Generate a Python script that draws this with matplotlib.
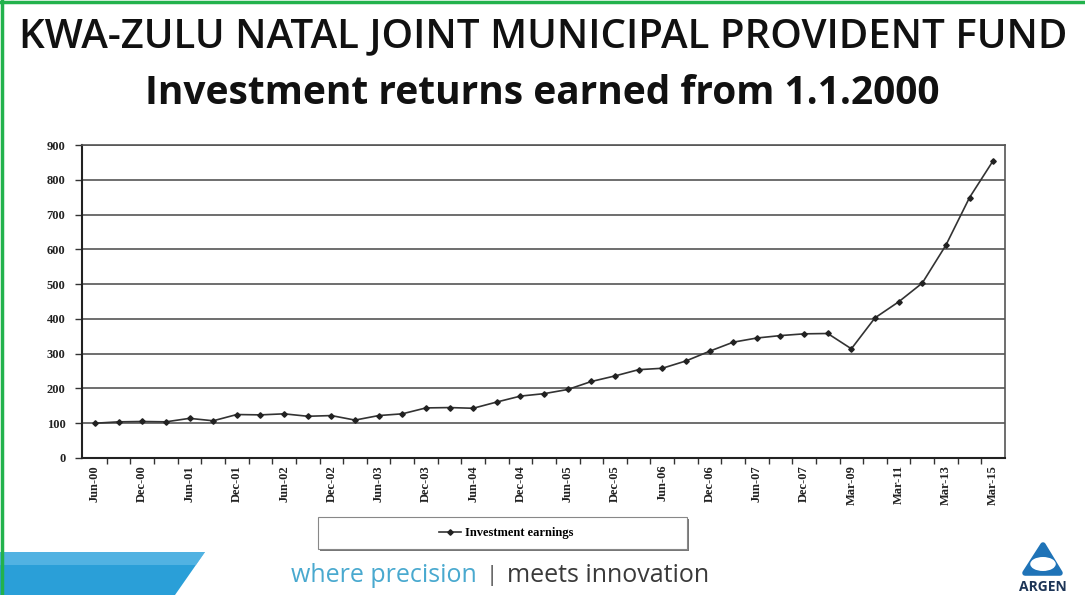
#!/usr/bin/env python3

import numpy as np
import matplotlib
matplotlib.use("Agg")
import matplotlib.pyplot as plt
from matplotlib.patches import Rectangle, Polygon, Circle
from matplotlib.lines import Line2D

# quarterly points up to Dec-07, then roughly annual
periods = ["Jun-00", "Sep-00", "Dec-00", "Mar-01", "Jun-01", "Sep-01", "Dec-01",
           "Mar-02", "Jun-02", "Sep-02", "Dec-02", "Mar-03", "Jun-03", "Sep-03",
           "Dec-03", "Mar-04", "Jun-04", "Sep-04", "Dec-04", "Mar-05", "Jun-05",
           "Sep-05", "Dec-05", "Mar-06", "Jun-06", "Sep-06", "Dec-06", "Mar-07",
           "Jun-07", "Sep-07", "Dec-07", "Jun-08", "Mar-09", "Mar-10", "Mar-11",
           "Mar-12", "Mar-13", "Mar-14", "Mar-15"]
earnings = [100, 104, 105, 104, 114, 107, 125, 124, 127, 120, 122, 109, 122, 127,
            144, 145, 143, 161, 178, 185, 197, 220, 236, 254, 258, 279, 307, 333,
            345, 352, 357, 358, 314, 403, 449, 503, 612, 749, 855]
y_ticks = [0, 100, 200, 300, 400, 500, 600, 700, 800, 900]

W, H = 1085, 595

def main():
    fig = plt.figure(figsize=(W / 100, H / 100), dpi=100)
    fig.patch.set_facecolor("white")

    # titles
    fig.text(543 / W, 1 - 37 / H, "KWA-ZULU NATAL JOINT MUNICIPAL PROVIDENT FUND",
             ha="center", va="center", fontsize=29, family="Open Sans",
             fontweight="semibold", color="#111111")
    fig.text(542 / W, 1 - 94 / H, "Investment returns earned from 1.1.2000",
             ha="center", va="center", fontsize=28, family="Open Sans",
             fontweight="bold", color="#111111")

    ax = fig.add_axes([82 / W, 1 - 458 / H, (1005 - 82) / W, (458 - 145) / H])
    x = np.arange(len(periods))
    ax.plot(x, earnings, color="#333333", lw=1.2, marker="D", ms=2.8,
            mfc="#222222", mec="#222222", label="Investment earnings")

    ax.set_xlim(-0.55, len(periods) - 0.5)
    ax.set_ylim(0, 900)
    ax.set_yticks(y_ticks)
    ax.set_yticklabels([str(v) for v in y_ticks], family="Liberation Serif",
                       fontweight="bold", fontsize=9, color="#222222")
    ax.yaxis.grid(True, color="#555555", lw=1.2)
    ax.set_axisbelow(True)

    ax.set_xticks(x[::2])
    ax.set_xticklabels(periods[::2], rotation=90, family="Liberation Serif",
                       fontweight="bold", fontsize=9, color="#222222")
    ax.set_xticks(x[:-1] + 0.5, minor=True)
    ax.tick_params(axis="x", which="major", length=0, pad=5)
    ax.tick_params(axis="x", which="minor", length=4, width=1, color="#333333")
    ax.tick_params(axis="y", length=5, width=1, color="#333333", pad=7)

    for side in ["left", "bottom"]:
        ax.spines[side].set_color("#222222")
        ax.spines[side].set_linewidth(1.5)
    for side in ["top", "right"]:
        ax.spines[side].set_color("#555555")
        ax.spines[side].set_linewidth(1.2)

    # legend box with a small shadow
    fig.patches.append(Rectangle((320 / W, 1 - 551 / H), 369 / W, 32 / H,
                                 transform=fig.transFigure, fc="#777777",
                                 ec="none", zorder=1))
    fig.patches.append(Rectangle((318 / W, 1 - 549 / H), 369 / W, 32 / H,
                                 transform=fig.transFigure, fc="white",
                                 ec="#888888", lw=0.8, zorder=2))
    leg = fig.legend(loc="center", bbox_to_anchor=(506 / W, 1 - 533 / H),
                     frameon=False, handlelength=1.8, handletextpad=0.3,
                     prop={"family": "Liberation Serif", "weight": "bold",
                           "size": 9})
    leg.set_zorder(3)

    # footer band
    fig.patches.append(Polygon([(0, 0), (175 / W, 0), (205 / W, 43 / H), (0, 43 / H)],
                               closed=True, transform=fig.transFigure,
                               fc="#2a9fd8", ec="none"))
    fig.patches.append(Polygon([(0, 30 / H), (196 / W, 30 / H), (205 / W, 43 / H), (0, 43 / H)],
                               closed=True, transform=fig.transFigure,
                               fc="#6cc0ea", ec="none", alpha=0.6))

    fig.text(477 / W, 1 - 575 / H, "where precision", ha="right", va="center",
             fontsize=18, family="Open Sans", color="#49a9cf")
    fig.text(492 / W, 1 - 575 / H, "|", ha="center", va="center",
             fontsize=16, family="Open Sans", color="#555555")
    fig.text(507 / W, 1 - 575 / H, "meets innovation", ha="left", va="center",
             fontsize=18, family="Open Sans", color="#3a3a3a")

    # logo
    fig.patches.append(Polygon([(1025 / W, 1 - 573 / H), (1060 / W, 1 - 573 / H),
                                (1043 / W, 1 - 545 / H)], closed=True,
                               transform=fig.transFigure, fc="#1f73b7",
                               ec="#1f73b7", lw=4, joinstyle="round"))
    fig.patches.append(Circle((1043 / W, 1 - 564 / H), 7 / H,
                              transform=fig.transFigure, fc="white", ec="none"))
    fig.text(1043 / W, 1 - 587 / H, "ARGEN", ha="center", va="center",
             fontsize=10, family="Open Sans", fontweight="bold", color="#1d3557")

    # green slide border
    fig.lines.append(Line2D([2 / W, 2 / W], [0, 1], transform=fig.transFigure,
                            color="#22b24c", lw=2.5))
    fig.lines.append(Line2D([0, 1], [1 - 2 / H, 1 - 2 / H], transform=fig.transFigure,
                            color="#22b24c", lw=2.5))

    fig.savefig("out.png", dpi=100)

if __name__ == "__main__":
    main()
